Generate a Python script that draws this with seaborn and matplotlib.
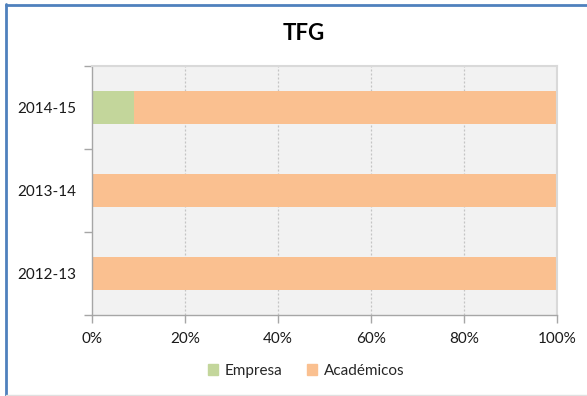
import matplotlib
matplotlib.use("Agg")
import matplotlib.pyplot as plt
import matplotlib.patches as mpatches
import matplotlib.lines as mlines
import seaborn as sns
import pandas as pd
import numpy as np

# Share of final-degree projects by origin, per academic year
years = ["2014-15", "2013-14", "2012-13"]
empresa = [9, 0, 0]
academicos = [91, 100, 100]

series_names = ["Empresa", "Académicos"]
colors = ["#C3D69B", "#FAC090"]

sns.set_theme(style="white")
plt.rcParams["font.family"] = ["Lato", "DejaVu Sans"]

fig = plt.figure(figsize=(5.87, 3.96), dpi=100)
ax = fig.add_axes([92 / 587, 1 - 315 / 396, 465 / 587, 249 / 396])
ax.set_facecolor("#F2F2F2")

df = pd.DataFrame({"year": years, "Empresa": empresa, "Académicos": academicos})
df["total"] = df["Empresa"] + df["Académicos"]

# Stacked bars: draw the cumulative total first, then the lower segment over it
sns.barplot(data=df, y="year", x="total", order=years, color=colors[1],
            width=0.4, ax=ax, saturation=1, orient="h", linewidth=0)
sns.barplot(data=df, y="year", x="Empresa", order=years, color=colors[0],
            width=0.4, ax=ax, saturation=1, orient="h", linewidth=0)

ax.set_xlim(0, 100)
ax.set_ylim(2.5, -0.5)
ax.set_xticks(np.arange(0, 101, 20))
ax.set_xticklabels([f"{v}%" for v in range(0, 101, 20)])
ax.set_xlabel("")
ax.set_ylabel("")

# Vertical dashed gridlines
for v in range(20, 100, 20):
    ax.axvline(v, color="#C4C4C4", lw=0.9, ls=(0, (1.6, 1.6)), zorder=0.5)

for side in ["top", "right"]:
    ax.spines[side].set_visible(True)
    ax.spines[side].set_color("#D9D9D9")
    ax.spines[side].set_linewidth(1.5)
for side in ["left", "bottom"]:
    ax.spines[side].set_color("#A6A6A6")
    ax.spines[side].set_linewidth(1.0)

# Category separators as minor ticks on the y axis
ax.set_yticks([0, 1, 2])
ax.set_yticklabels(years)
ax.set_yticks([-0.5, 0.5, 1.5, 2.5], minor=True)
ax.tick_params(axis="y", which="major", length=0, pad=11, labelsize=11, colors="#1A1A1A")
ax.tick_params(axis="y", which="minor", length=6, width=1, color="#A6A6A6", left=True)
ax.tick_params(axis="x", which="major", length=6, width=1, color="#A6A6A6", bottom=True,
               labelsize=11, colors="#1A1A1A", pad=6)
for lab in ax.get_xticklabels() + ax.get_yticklabels():
    lab.set_color("#1A1A1A")

fig.text(304 / 587, 1 - 33 / 396, "TFG", ha="center", va="center",
         fontsize=16, fontweight="bold", color="black")

handles = [mpatches.Patch(color=c, label=n) for c, n in zip(colors, series_names)]
fig.legend(handles=handles, loc="center", bbox_to_anchor=(306 / 587, 1 - 371 / 396),
           ncol=2, frameon=False, fontsize=11, handlelength=0.7, handleheight=0.7,
           handletextpad=0.4, columnspacing=1.6)

# Outer chart border
fig.add_artist(mlines.Line2D([5.5 / 587, 5.5 / 587], [0, 1 - 4 / 396],
                             transform=fig.transFigure, color="#4F81BD", lw=2))
fig.add_artist(mlines.Line2D([5.5 / 587, 1], [1 - 4.5 / 396, 1 - 4.5 / 396],
                             transform=fig.transFigure, color="#4F81BD", lw=2))
fig.add_artist(mlines.Line2D([6 / 587, 1], [1.5 / 396, 1.5 / 396],
                             transform=fig.transFigure, color="#E0E0E0", lw=1))

fig.savefig("out.png", dpi=100, facecolor="white")
